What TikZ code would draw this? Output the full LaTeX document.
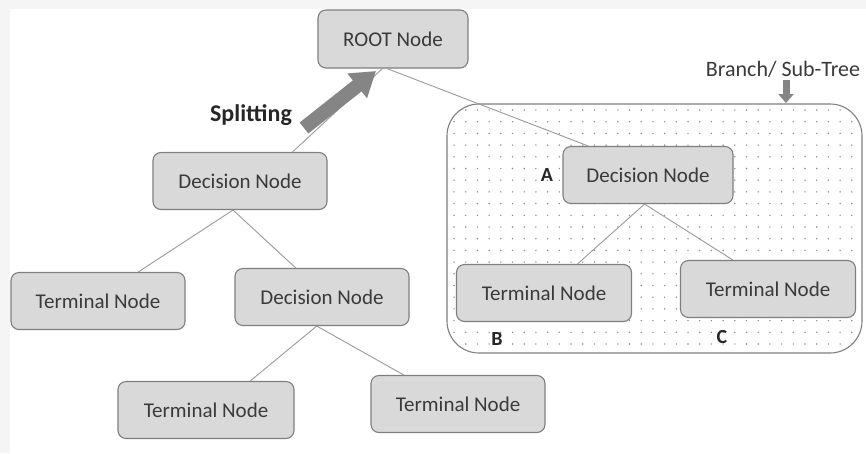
\documentclass[tikz,border=0pt]{standalone}
\usepackage{fontspec}
\setmainfont{Carlito}
\usetikzlibrary{calc,arrows.meta}
\definecolor{nodefill}{HTML}{D9D9D9}
\definecolor{nodeline}{HTML}{7F7F7F}
\definecolor{txt}{HTML}{3A3A3A}
\definecolor{conn}{HTML}{9A9A9A}
\definecolor{arrowgray}{HTML}{858585}
\tikzset{
  treenode/.style={draw=nodeline, line width=1.1pt, fill=nodefill, rounded corners=8pt,
    minimum width=174pt, minimum height=57pt, inner sep=0pt, text=txt,
    font=\fontsize{21}{24}\selectfont},
  conline/.style={draw=conn, line width=0.9pt},
  letter/.style={font=\bfseries\fontsize{20}{22}\selectfont, text=black!85},
}
\begin{document}
\begin{tikzpicture}[x=1pt,y=-1pt]
\useasboundingbox (0,0) rectangle (866,453);
\fill[black!4] (0,0) rectangle (866,453);
\fill[white] (10,9) rectangle (866,453);

% branch box with dots
\begin{scope}
  \clip[rounded corners=32pt] (447,104) rectangle (862,353);
  \foreach \i in {0,...,36} {
    \foreach \j in {0,...,21} {
      \fill[black!45] (454+\i*11.7, 110+\j*11.7) circle (0.8pt);
    }
  }
\end{scope}
\draw[nodeline, line width=1.1pt, rounded corners=32pt] (447,104) rectangle (862,353);

% nodes
\node[treenode, minimum width=150pt, minimum height=58pt] (root) at (393,39) {ROOT Node};
\node[treenode] (decL) at (240,181) {Decision Node};
\node[treenode] (termL) at (98,301) {Terminal Node};
\node[treenode] (decL2) at (322,297) {Decision Node};
\node[treenode, minimum width=176pt] (termLL) at (206,410) {Terminal Node};
\node[treenode] (termLR) at (458,404) {Terminal Node};
\node[treenode, minimum width=170pt] (decA) at (648,175) {Decision Node};
\node[treenode, minimum width=175pt] (termB) at (544,293) {Terminal Node};
\node[treenode, minimum width=175pt] (termC) at (768,289) {Terminal Node};

% connectors
\draw[conline] ($(root.south west)!0.43!(root.south east)$) -- ($(decL.north west)!0.80!(decL.north east)$);
\draw[conline] ($(root.south west)!0.46!(root.south east)$) -- ($(decA.north west)!0.15!(decA.north east)$);
\draw[conline] ($(decL.south west)!0.46!(decL.south east)$) -- ($(termL.north west)!0.73!(termL.north east)$);
\draw[conline] ($(decL.south west)!0.46!(decL.south east)$) -- ($(decL2.north west)!0.35!(decL2.north east)$);
\draw[conline] ($(decL2.south west)!0.47!(decL2.south east)$) -- ($(termLL.north west)!0.75!(termLL.north east)$);
\draw[conline] ($(decL2.south west)!0.47!(decL2.south east)$) -- ($(termLR.north west)!0.19!(termLR.north east)$);
\draw[conline] ($(decA.south west)!0.48!(decA.south east)$) -- ($(termB.north west)!0.69!(termB.north east)$);
\draw[conline] ($(decA.south west)!0.48!(decA.south east)$) -- ($(termC.north west)!0.30!(termC.north east)$);

% splitting arrow
\coordinate (splitTail) at (304,128);
\coordinate (splitTip) at (376,71);
\draw[arrowgray, line width=14pt, -{Triangle[width=30pt,length=24pt]}] (splitTail) -- (splitTip);
\node[font=\bfseries\fontsize{24}{28}\selectfont, text=black!85] (split) at (251,115) {Splitting};

% branch label
\node[font=\fontsize{22}{26}\selectfont, text=txt] (branch) at (783,69) {Branch/ Sub-Tree};
\coordinate (bTop) at (786,80);
\coordinate (bBot) at (786,103);
\draw[arrowgray, line width=7pt, -{Triangle[width=15pt,length=9pt]}] (bTop) -- (bBot);

% letters
\node[letter] (lA) at (547,175) {A};
\node[letter] (lB) at (497,339) {B};
\node[letter] (lC) at (722,337) {C};
\end{tikzpicture}
\end{document}
